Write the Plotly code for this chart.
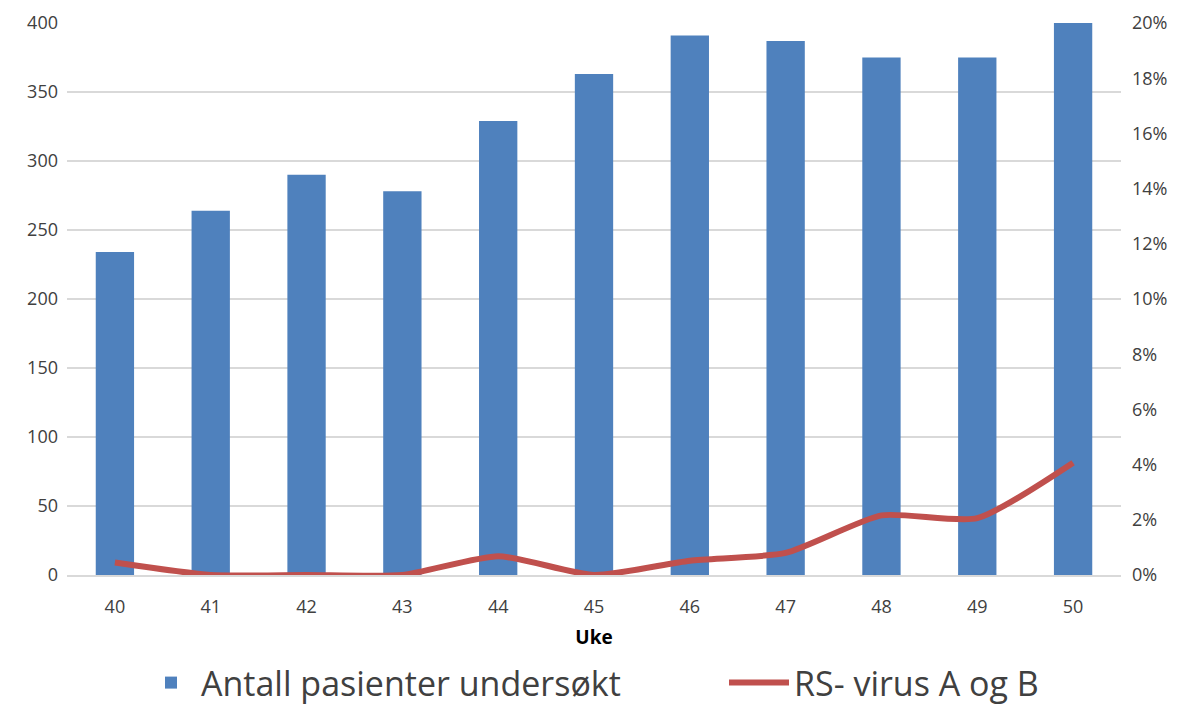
import plotly.graph_objects as go

weeks = ["40", "41", "42", "43", "44", "45", "46", "47", "48", "49", "50"]
patients = [234, 264, 290, 278, 329, 363, 391, 387, 375, 375, 400]
rsv_pct = [0.0045, 0.0, 0.0, 0.0, 0.0068, 0.0, 0.0052, 0.0080, 0.0216, 0.0206, 0.0407]

left_ticks = [0, 50, 100, 150, 200, 250, 300, 350, 400]
right_ticks = [0, 0.02, 0.04, 0.06, 0.08, 0.10, 0.12, 0.14, 0.16, 0.18, 0.20]

font_family = "Open Sans, Noto Sans, sans-serif"

fig = go.Figure()
fig.add_trace(go.Bar(
    x=weeks, y=patients, name="Antall pasienter undersøkt",
    marker=dict(color="#4f81bd", line=dict(width=0)), legend="legend", showlegend=True,
))
fig.add_trace(go.Scatter(
    x=weeks, y=rsv_pct, name="RS- virus A og B", yaxis="y2",
    mode="lines", line=dict(color="#c0504d", width=6, shape="spline", smoothing=0.6),
    legend="legend2", showlegend=True,
))

legend_font = dict(size=34, color="#404040")
fig.update_layout(
    width=1189, height=706, showlegend=True,
    margin=dict(l=59, r=76, t=15, b=139, autoexpand=False),
    paper_bgcolor="white", plot_bgcolor="white",
    bargap=0.6,
    font=dict(family=font_family, size=18, color="#404040"),
    xaxis=dict(
        type="category", showgrid=False, showline=True, linecolor="#d9d9d9", linewidth=1.5,
        ticks="", tickfont=dict(size=18, color="#404040"), ticklabelstandoff=15,
        title=dict(text="<b>Uke</b>", font=dict(size=19, color="black"), standoff=13),
    ),
    yaxis=dict(
        range=[0, 400], tickvals=left_ticks, showgrid=True, gridcolor="#d9d9d9", gridwidth=1.5,
        zeroline=False, showline=False, ticks="", tickfont=dict(size=18, color="#404040"),
        ticklabelstandoff=8,
    ),
    yaxis2=dict(
        range=[0, 0.20], tickvals=right_ticks, tickformat=".0%", overlaying="y", side="right",
        showgrid=False, zeroline=False, showline=False, ticks="",
        tickfont=dict(size=18, color="#404040"), ticklabelstandoff=10,
    ),
    legend=dict(
        visible=True, orientation="h", xref="container", yref="container",
        x=133/1189, xanchor="left", y=31/706, yanchor="middle", font=legend_font, itemwidth=50,
    ),
    legend2=dict(
        visible=True, orientation="h", xref="container", yref="container",
        x=716/1189, xanchor="left", y=31/706, yanchor="middle", font=legend_font, itemwidth=60,
    ),
)

fig.write_html("out.html")
